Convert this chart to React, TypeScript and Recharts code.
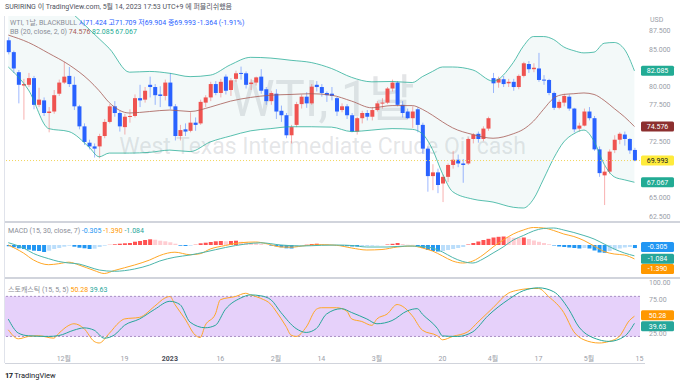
import React from 'react';
import { ComposedChart, Bar, Line, Area, XAxis, YAxis, ReferenceLine, ReferenceArea, Cell } from 'recharts';

const FONT = "Roboto, 'Noto Sans CJK KR', sans-serif";
const UP = '#ef5350';
const DOWN = '#2962ff';
const AXIS = '#9a9ea8';
const GRAY = '#8a8d96';

// daily candles, 2022-11-16 .. 2023-05-12
const opens = [86.2, 84.6, 81.9, 80.1, 80.2, 81.1, 77.5, 78.1, 76.4, 76.6, 79.0, 80.5, 81.4, 80.2, 77.3, 74.6, 72.4, 71.9, 71.9, 73.3, 75.2, 77.3, 76.4, 74.5, 75.9, 76.0, 78.4, 78.2, 80.2, 79.9, 78.9, 78.7, 80.5, 77.3, 73.3, 74.2, 74.0, 75.1, 75.0, 77.8, 78.5, 80.3, 79.1, 81.3, 79.5, 81.0, 81.8, 81.75, 80.3, 80.5, 81.3, 79.6, 78.0, 79.0, 76.7, 76.1, 73.4, 74.8, 77.6, 78.6, 77.7, 80.2, 79.9, 79.1, 79.0, 78.4, 76.8, 77.3, 76.1, 73.9, 75.7, 76.4, 75.9, 76.8, 77.7, 77.8, 79.7, 80.5, 77.5, 76.6, 75.7, 76.9, 74.8, 71.6, 67.9, 68.4, 66.9, 67.8, 69.4, 70.1, 69.6, 69.6, 72.9, 73.6, 72.9, 74.3, 81.1, 80.5, 80.95, 80.4, 80.6, 79.9, 81.4, 83.0, 82.3, 82.4, 80.9, 80.85, 79.1, 77.1, 77.8, 78.6, 77.0, 74.3, 74.7, 76.6, 75.7, 71.5, 68.0, 68.5, 71.4, 72.8, 73.5, 72.9, 71.424];
const highs = [86.6, 84.8, 82.2, 81.0, 81.8, 81.4, 79.8, 78.5, 77.2, 79.5, 80.9, 83.3, 82.6, 81.3, 77.5, 75.0, 72.8, 72.3, 73.6, 75.6, 77.6, 78.0, 76.7, 76.3, 76.9, 78.9, 80.2, 79.9, 81.3, 80.3, 80.0, 80.9, 81.8, 77.6, 74.8, 75.0, 76.5, 75.8, 78.2, 78.8, 80.6, 80.7, 81.0, 81.6, 81.1, 82.1, 82.65, 82.0, 81.0, 81.3, 82.3, 79.9, 79.4, 79.6, 77.4, 76.4, 74.8, 77.9, 78.9, 79.2, 80.3, 80.7, 80.3, 79.3, 79.9, 78.6, 77.7, 77.6, 76.4, 75.9, 76.7, 76.8, 77.2, 78.0, 78.4, 79.9, 80.9, 80.7, 78.0, 77.0, 77.3, 77.2, 75.1, 71.9, 69.5, 68.9, 68.1, 69.6, 71.3, 70.8, 70.2, 73.1, 73.7, 73.9, 74.6, 75.9, 81.8, 81.3, 81.4, 81.0, 81.0, 81.6, 83.3, 83.4, 83.1, 84.5, 81.5, 81.0, 79.3, 78.2, 79.0, 78.9, 77.1, 75.1, 77.0, 77.2, 76.0, 71.9, 69.3, 71.5, 73.4, 73.8, 73.9, 73.0, 71.709];
const lows = [84.3, 81.8, 77.7, 75.5, 79.9, 76.9, 77.2, 76.0, 73.8, 76.3, 78.7, 80.3, 79.9, 76.8, 74.2, 72.1, 71.5, 70.4, 70.3, 73.0, 75.0, 75.9, 73.9, 73.5, 75.1, 75.8, 77.2, 77.8, 78.5, 77.5, 77.2, 78.1, 76.9, 72.7, 72.7, 73.3, 73.8, 74.0, 74.8, 77.2, 78.0, 78.8, 78.5, 78.9, 78.7, 80.6, 80.9, 79.7, 79.5, 80.1, 79.0, 77.5, 77.5, 75.6, 75.2, 73.0, 72.3, 74.5, 77.0, 77.1, 77.5, 79.3, 78.6, 77.9, 78.1, 76.0, 76.5, 75.6, 73.8, 73.5, 75.0, 75.4, 75.4, 76.6, 77.0, 77.6, 79.3, 77.3, 75.8, 75.6, 74.4, 73.8, 70.9, 65.8, 66.0, 65.6, 64.4, 67.1, 68.9, 69.1, 67.0, 69.4, 72.3, 72.4, 72.6, 74.0, 79.1, 79.8, 79.9, 79.9, 79.4, 79.6, 81.2, 81.8, 81.9, 80.6, 80.2, 78.8, 76.8, 76.9, 77.3, 76.7, 73.8, 73.9, 74.6, 75.4, 71.3, 67.8, 64.0, 68.2, 71.0, 72.2, 72.0, 70.9, 69.904];
const closes = [84.6, 82.4, 80.2, 80.3, 81.1, 77.5, 78.2, 76.4, 76.6, 78.8, 80.5, 81.3, 80.3, 77.3, 74.6, 72.5, 71.9, 71.6, 73.3, 75.2, 77.3, 76.4, 74.6, 75.9, 76.0, 78.4, 78.1, 79.4, 79.9, 78.8, 78.7, 80.5, 77.3, 73.3, 74.1, 73.9, 75.1, 74.8, 77.9, 78.5, 80.3, 79.1, 80.6, 79.4, 80.8, 81.75, 81.7, 80.2, 80.5, 81.2, 79.4, 78.0, 79.1, 76.6, 76.1, 73.4, 74.5, 77.6, 78.6, 77.7, 79.95, 79.9, 79.1, 78.8, 78.7, 76.6, 77.3, 76.1, 73.9, 75.7, 76.4, 75.9, 76.8, 77.7, 77.8, 79.7, 80.5, 77.5, 76.4, 75.7, 76.6, 74.8, 71.6, 67.9, 68.4, 66.7, 67.8, 69.4, 70.1, 69.6, 69.4, 72.9, 73.5, 72.9, 74.3, 75.7, 80.4, 81.0, 80.3, 80.6, 79.9, 81.4, 83.1, 82.3, 82.5, 80.85, 80.8, 79.1, 77.1, 77.9, 78.7, 77.0, 74.2, 74.7, 76.6, 75.7, 71.5, 68.3, 68.5, 71.2, 72.8, 73.6, 72.9, 71.36, 69.993];

// Bollinger (20, close, 2) at sample bars
const bbIdx = [0, 4, 8, 12, 16, 18, 20, 24, 28, 32, 36, 40, 44, 48, 52, 56, 60, 64, 68, 72, 76, 80, 82, 84, 86, 88, 92, 96, 100, 102, 104, 106, 108, 110, 112, 114, 116, 118, 120, 122, 124];
const bbUpper = [93.5, 93.0, 92.0, 90.2, 87.7, 86.4, 85.1, 81.9, 82.0, 81.75, 81.3, 81.5, 82.9, 83.9, 83.8, 83.5, 83.2, 82.4, 81.2, 80.6, 80.65, 80.5, 81.3, 82.0, 82.6, 82.6, 82.2, 80.7, 83.2, 85.4, 86.7, 86.7, 86.3, 85.3, 84.8, 84.5, 84.6, 85.8, 85.9, 85.0, 82.085];
const bbBasis = [86.9, 85.9, 84.45, 82.9, 80.8, 79.4, 77.8, 76.4, 76.6, 76.8, 76.6, 77.2, 78.0, 78.5, 78.8, 78.9, 79.0, 78.8, 78.0, 77.1, 77.4, 77.4, 76.9, 76.1, 75.2, 74.4, 73.5, 73.0, 73.6, 74.2, 75.3, 76.9, 78.4, 78.9, 79.0, 79.1, 78.9, 78.1, 77.0, 75.9, 74.576];
const bbLower = [82.6, 79.5, 74.3, 73.9, 71.8, 70.5, 71.0, 71.0, 71.1, 71.4, 71.2, 72.5, 73.3, 74.0, 74.3, 74.55, 74.55, 74.5, 73.9, 74.1, 74.3, 74.2, 73.6, 71.5, 68.2, 65.8, 64.8, 64.4, 63.7, 63.6, 64.8, 67.5, 70.3, 72.5, 73.6, 74.1, 72.6, 69.5, 67.8, 67.4, 67.067];

// MACD (15, 30, close, 7)
const macdHist = [-0.13, -0.23, -0.33, -0.4, -0.47, -0.57, -0.6, -0.7, -0.57, -0.4, -0.3, -0.17, -0.07, -0.17, -0.27, -0.33, -0.4, -0.37, -0.2, -0.07, 0.02, 0.07, 0.13, 0.17, 0.2, 0.33, 0.4, 0.5, 0.57, 0.53, 0.43, 0.37, 0.27, 0.13, -0.07, -0.1, -0.07, 0.03, 0.17, 0.23, 0.3, 0.37, 0.4, 0.37, 0.4, 0.43, 0.33, 0.27, 0.2, 0.17, 0.1, 0.03, -0.07, -0.13, -0.23, -0.33, -0.35, -0.2, -0.07, 0.03, 0.1, 0.13, 0.1, 0.07, 0.03, -0.03, -0.08, -0.12, -0.15, -0.15, -0.12, -0.1, -0.08, -0.05, -0.02, 0.05, 0.12, 0.2, 0.1, 0.03, 0.02, -0.1, -0.3, -0.5, -0.6, -0.65, -0.6, -0.5, -0.4, -0.3, -0.2, 0.05, 0.2, 0.35, 0.5, 0.62, 0.75, 0.82, 0.85, 0.8, 0.72, 0.7, 0.75, 0.6, 0.45, 0.32, 0.2, 0.08, -0.05, -0.15, -0.2, -0.25, -0.3, -0.35, -0.3, -0.35, -0.55, -0.75, -0.78, -0.6, -0.45, -0.35, -0.25, -0.2, -0.305];
const macdIdx = [0, 3, 5, 8, 10, 12, 14, 17, 19, 21, 25, 28, 30, 33, 36, 38, 40, 43, 46, 49, 51, 54, 56, 59, 62, 65, 68, 71, 74, 77, 80, 82, 84, 86, 88, 90, 92, 94, 96, 98, 100, 102, 104, 106, 108, 110, 112, 114, 116, 118, 120, 122, 124];
const macdLine = [0, -0.8, -1.5, -1.97, -1.87, -1.72, -2.0, -2.55, -2.85, -2.55, -2.0, -1.5, -1.05, -0.72, -0.97, -0.87, -0.4, -0.05, 0.23, 0.3, 0.15, -0.2, -0.22, -0.05, 0.03, -0.03, -0.3, -0.5, -0.45, -0.2, -0.1, -0.3, -0.6, -1.1, -1.6, -1.8, -1.6, -1.0, -0.2, 0.5, 1.1, 1.5, 1.75, 1.7, 1.45, 1.1, 0.85, 0.45, -0.1, -0.65, -0.9, -1.0, -1.39];
const sigIdx = [0, 3, 5, 8, 10, 12, 14, 16, 18, 21, 25, 28, 30, 33, 36, 39, 43, 47, 50, 54, 58, 62, 65, 68, 71, 75, 79, 82, 84, 86, 88, 90, 92, 94, 96, 98, 100, 102, 104, 106, 108, 110, 112, 114, 116, 118, 120, 122, 124];
const sigLine = [0.23, -0.3, -0.85, -1.37, -1.65, -1.8, -1.9, -2.2, -2.5, -2.63, -2.4, -2.0, -1.6, -1.22, -1.0, -0.7, -0.25, 0.1, 0.22, 0.0, -0.1, -0.03, 0.0, -0.05, -0.2, -0.2, -0.1, -0.15, -0.3, -0.7, -1.25, -1.65, -1.8, -1.4, -0.8, -0.2, 0.5, 0.95, 1.4, 1.65, 1.7, 1.5, 1.25, 0.95, 0.6, 0.1, -0.4, -0.8, -1.084];

// Stochastic (15, 5, 5)
const kIdx = [0, 2, 4, 6, 9, 10, 12, 13, 15, 17, 18, 20, 22, 23, 26, 29, 31, 32, 33, 35, 37, 38, 39, 41, 42, 45, 47, 48, 50, 52, 53, 55, 56, 57, 59, 61, 62, 65, 67, 68, 70, 72, 73, 75, 77, 78, 80, 82, 85, 86, 88, 91, 93, 96, 99, 101, 104, 105, 107, 110, 112, 114, 117, 119, 121, 123, 124];
const kLine = [30, 16.5, 20, 21, 17.4, 24.6, 36.6, 39, 31.8, 12.6, 10.2, 24.6, 41.4, 46.2, 48.6, 65.4, 77.4, 79.8, 67.8, 46.2, 22.2, 18.4, 36.6, 53.4, 75, 79.8, 84.6, 82.2, 77, 68, 58, 35, 22, 20, 34, 60.6, 63, 63, 58.2, 46.2, 42.4, 36.6, 46.2, 53.4, 67.8, 65.4, 51, 29.4, 20.8, 15, 20, 27, 41.4, 63, 84.6, 89.4, 91.8, 91.8, 79.8, 55.8, 27, 15, 10.2, 12.6, 20, 43.8, 50.28];
const dIdx = [0, 2, 4, 8, 10, 13, 15, 17, 19, 21, 23, 26, 29, 32, 34, 36, 39, 41, 43, 46, 48, 50, 52, 54, 57, 59, 61, 63, 66, 68, 71, 73, 76, 79, 81, 82, 85, 86, 89, 92, 95, 99, 102, 105, 108, 111, 113, 117, 119, 122, 124];
const dLine = [46, 25, 21, 20, 21.3, 29.4, 32.8, 29.4, 17.4, 22.2, 36.6, 46.2, 60.6, 72.6, 67.8, 41.4, 33, 36.6, 60.6, 77.4, 82.2, 80.8, 75, 55.8, 31.8, 26, 31.8, 53.4, 61.6, 55.8, 46.2, 39, 43.8, 58.2, 61.6, 53.4, 31.8, 20.8, 20, 27, 51, 75, 88.5, 92.8, 87, 60.6, 34.2, 15, 12.6, 20, 39.63];

const tickIdx = [11, 23, 32, 42, 53, 62, 73, 86, 96, 105, 115, 125];
const tickText = ['12월', '19', '2023', '16', '2월', '14', '3월', '20', '4월', '17', '5월', '15'];
// levels covered by the value badges are left out
const priceTicks = [62.5, 65, 72.5, 77.5, 80, 85, 87.5];

const X_DOMAIN: [number, number] = [-0.65, 125.1];

const rows: any[] = closes.map((c, i) => ({
  i, o: opens[i], h: highs[i], l: lows[i], c,
  range: [lows[i], highs[i]],
  hist: macdHist[i],
}));
bbIdx.forEach((k, j) => {
  rows[k].bbU = bbUpper[j];
  rows[k].bbM = bbBasis[j];
  rows[k].bbL = bbLower[j];
  rows[k].band = [bbLower[j], bbUpper[j]];
});
macdIdx.forEach((k, j) => { rows[k].macd = macdLine[j]; });
sigIdx.forEach((k, j) => { rows[k].sig = sigLine[j]; });
kIdx.forEach((k, j) => { rows[k].k = kLine[j]; });
dIdx.forEach((k, j) => { rows[k].d = dLine[j]; });

const histColor = (i: number) => {
  const v = macdHist[i];
  const p = i > 0 ? macdHist[i - 1] : 0;
  if (v >= 0) return v >= p ? '#ff5252' : '#ffcdd2';
  return v <= p ? '#2196f3' : '#bbdefb';
};

const Candle = (props: any) => {
  const { x, y, width, height, payload } = props;
  if (!payload) return null;
  const { o, h, l, c } = payload;
  const col = c >= o ? UP : DOWN;
  const top = height >= 0 ? y : y + height;
  const hh = Math.abs(height);
  const k = h - l > 0 ? hh / (h - l) : 0;
  const yO = top + (h - o) * k;
  const yC = top + (h - c) * k;
  const cx = x + width / 2;
  return (
    <g>
      <line x1={cx} x2={cx} y1={top} y2={top + hh} stroke={col} strokeOpacity={0.45} strokeWidth={1} />
      <rect x={x} y={Math.min(yO, yC)} width={width} height={Math.max(1, Math.abs(yC - yO))} fill={col} />
    </g>
  );
};

const Badge = (props: any) => {
  const { viewBox, text, bg, fg = '#fff', dy = 0 } = props;
  if (!viewBox) return null;
  const x = viewBox.x + viewBox.width + 1;
  const y = viewBox.y + dy;
  return (
    <g>
      <rect x={x} y={y - 5} width={33} height={10} rx={1.5} fill={bg} />
      <text x={x + 16.5} y={y + 2.4} textAnchor="middle" fontSize={7} fill={fg} fontFamily={FONT}>{text}</text>
    </g>
  );
};

const XTick = (props: any) => {
  const { x, y, payload } = props;
  const t = tickText[tickIdx.indexOf(payload.value)] ?? '';
  const bold = t === '2023';
  return (
    <text x={x} y={y + 6} textAnchor="middle" fontSize={7} fontFamily={FONT}
      fill={bold ? '#4a4d57' : AXIS} fontWeight={bold ? 700 : 400}>{t}</text>
  );
};

const yTick = { fontSize: 7, fill: AXIS, fontFamily: FONT };

const abs = (top: number, left = 0): React.CSSProperties => ({ position: 'absolute', top, left });

export default function App() {
  return (
    <div style={{ position: 'absolute', left: 0, top: 0, width: 680, height: 383, background: '#fff', overflow: 'hidden', fontFamily: FONT }}>
      {/* watermark */}
      <div style={{ ...abs(70, 5), width: 635, textAlign: 'center', fontSize: 50, lineHeight: '58px', color: 'rgba(120,123,134,0.2)' }}>WTI, 1날</div>
      <div style={{ ...abs(133, 5), width: 635, textAlign: 'center', fontSize: 23, lineHeight: '28px', color: 'rgba(120,123,134,0.2)' }}>West Texas Intermediate Crude Oil cash</div>

      {/* price pane */}
      <div style={abs(0)}>
        <ComposedChart width={680} height={222} data={rows} margin={{ top: 16, right: 0, bottom: 1, left: 5 }}>
          <XAxis type="number" dataKey="i" domain={X_DOMAIN} allowDataOverflow hide />
          <YAxis orientation="right" width={40} domain={[61.85, 89.47]} allowDataOverflow ticks={priceTicks}
            tickFormatter={(v: number) => v.toFixed(3)} tick={yTick} axisLine={false} tickLine={false} tickMargin={3} />
          <Area dataKey="band" type="monotone" connectNulls stroke="none" fill="#9ccfcf" fillOpacity={0.12} isAnimationActive={false} />
          <Line dataKey="bbU" type="monotone" connectNulls dot={false} stroke="#22ab94" strokeOpacity={0.75} strokeWidth={1} isAnimationActive={false} />
          <Line dataKey="bbL" type="monotone" connectNulls dot={false} stroke="#22ab94" strokeOpacity={0.75} strokeWidth={1} isAnimationActive={false} />
          <Line dataKey="bbM" type="monotone" connectNulls dot={false} stroke="#a65b55" strokeOpacity={0.8} strokeWidth={1} isAnimationActive={false} />
          <ReferenceLine y={69.993} stroke="#f2d45c" strokeDasharray="1 2" label={<Badge text="69.993" bg="#ffeb3b" fg="#131722" />} />
          <Bar dataKey="range" barSize={4} shape={<Candle />} isAnimationActive={false} />
          <ReferenceLine y={82.085} stroke="none" label={<Badge text="82.085" bg="#22ab94" />} />
          <ReferenceLine y={74.576} stroke="none" label={<Badge text="74.576" bg="#8c2f2f" />} />
          <ReferenceLine y={67.067} stroke="none" label={<Badge text="67.067" bg="#22ab94" />} />
        </ComposedChart>
      </div>

      {/* MACD pane */}
      <div style={abs(222)}>
        <ComposedChart width={680} height={56} data={rows} margin={{ top: 1, right: 0, bottom: 1, left: 5 }}>
          <XAxis type="number" dataKey="i" domain={X_DOMAIN} allowDataOverflow hide />
          <YAxis orientation="right" width={40} domain={[-3.2, 2.2]} allowDataOverflow ticks={[2]}
            tickFormatter={(v: number) => v.toFixed(3)} tick={yTick} axisLine={false} tickLine={false} tickMargin={3} />
          <Bar dataKey="hist" barSize={4} isAnimationActive={false}>
            {rows.map((r) => <Cell key={r.i} fill={histColor(r.i)} />)}
          </Bar>
          <Line dataKey="macd" type="monotone" connectNulls dot={false} stroke="#ffa726" strokeWidth={1} isAnimationActive={false} />
          <Line dataKey="sig" type="monotone" connectNulls dot={false} stroke="#4db6ac" strokeWidth={1} isAnimationActive={false} />
          <ReferenceLine y={-0.305} stroke="none" label={<Badge text="-0.305" bg="#2196f3" dy={-1} />} />
          <ReferenceLine y={-1.084} stroke="none" label={<Badge text="-1.084" bg="#26a69a" dy={3} />} />
          <ReferenceLine y={-1.39} stroke="none" label={<Badge text="-1.390" bg="#ff9800" dy={10} />} />
        </ComposedChart>
      </div>

      {/* Stochastic pane */}
      <div style={abs(278)}>
        <ComposedChart width={680} height={85} data={rows} margin={{ top: 1, right: 0, bottom: 0, left: 5 }}>
          <XAxis type="number" dataKey="i" domain={X_DOMAIN} allowDataOverflow ticks={tickIdx} interval={0}
            tick={<XTick />} height={16} axisLine={false} tickLine={false} />
          <YAxis orientation="right" width={40} domain={[4.2, 106]} allowDataOverflow ticks={[25, 75, 100]}
            tickFormatter={(v: number) => v.toFixed(2)} tick={yTick} axisLine={false} tickLine={false} tickMargin={3} />
          <ReferenceArea y1={20} y2={80} fill="#d9b8f7" fillOpacity={0.65} stroke="none" />
          <ReferenceLine y={80} stroke="#a88fc4" strokeDasharray="2 2" />
          <ReferenceLine y={20} stroke="#a88fc4" strokeDasharray="2 2" />
          <Line dataKey="k" type="monotone" connectNulls dot={false} stroke="#ffa726" strokeWidth={1} isAnimationActive={false} />
          <Line dataKey="d" type="monotone" connectNulls dot={false} stroke="#26a69a" strokeWidth={1} isAnimationActive={false} />
          <ReferenceLine y={50.28} stroke="none" label={<Badge text="50.28" bg="#ff9800" dy={-1} />} />
          <ReferenceLine y={39.63} stroke="none" label={<Badge text="39.63" bg="#26a69a" dy={3} />} />
        </ComposedChart>
      </div>

      {/* frame and separators */}
      <div style={{ ...abs(16, 4), width: 1, height: 347, background: '#e0e3eb' }} />
      <div style={{ ...abs(221, 5), width: 675, height: 2, background: '#d1d4dc' }} />
      <div style={{ ...abs(277, 5), width: 675, height: 2, background: '#d1d4dc' }} />
      <div style={{ ...abs(363, 5), width: 640, height: 1, background: '#d1d4dc' }} />

      {/* texts */}
      <div style={{ ...abs(2, 5), fontSize: 7, lineHeight: '10px', color: '#50535e', whiteSpace: 'nowrap' }}>
        SURIRING 이 TradingView.com, 5월 14, 2023 17:53 UTC+9 에 퍼블리쉬했음
      </div>
      <div style={{ ...abs(18, 10), fontSize: 7, lineHeight: '10px', color: GRAY, whiteSpace: 'nowrap' }}>
        WTI, 1날, BLACKBULL{' '}
        <span style={{ color: DOWN }}>시71.424 고71.709 저69.904 종69.993 -1.364 (-1.91%)</span>
      </div>
      <div style={{ ...abs(27, 10), fontSize: 7, lineHeight: '10px', color: GRAY, whiteSpace: 'nowrap' }}>
        BB (20, close, 2, 0) <span style={{ color: '#a65b55' }}>74.576</span>{' '}
        <span style={{ color: '#22ab94' }}>82.085</span> <span style={{ color: '#22ab94' }}>67.067</span>
      </div>
      <div style={{ ...abs(15, 650), fontSize: 7, lineHeight: '10px', color: AXIS }}>USD</div>
      <div style={{ ...abs(226, 8), fontSize: 7, lineHeight: '10px', color: GRAY, whiteSpace: 'nowrap' }}>
        MACD (15, 30, close, 7) <span style={{ color: '#2196f3' }}>-0.305</span>{' '}
        <span style={{ color: '#ff9800' }}>-1.390</span> <span style={{ color: '#26a69a' }}>-1.084</span>
      </div>
      <div style={{ ...abs(285, 8), fontSize: 7, lineHeight: '10px', color: GRAY, whiteSpace: 'nowrap' }}>
        스토캐스틱 (15, 5, 5) <span style={{ color: '#ff9800' }}>50.28</span>{' '}
        <span style={{ color: '#26a69a' }}>39.63</span>
      </div>
      <div style={{ ...abs(370, 5), fontSize: 7.5, lineHeight: '11px', color: '#131722', whiteSpace: 'nowrap' }}>
        <b style={{ letterSpacing: -0.5 }}>17</b> TradingView
      </div>
    </div>
  );
}
